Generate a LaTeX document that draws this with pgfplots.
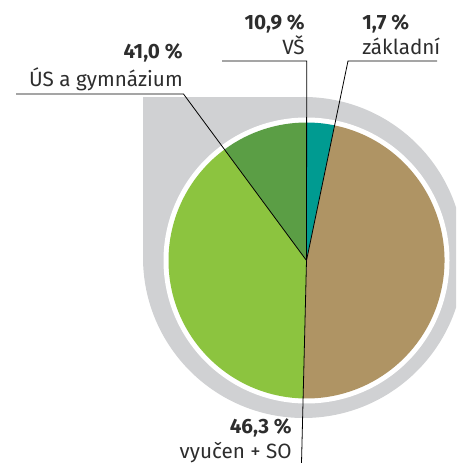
\documentclass[border=0pt]{standalone}
\usepackage{pgfplots}
\usepackage{pgfplotstable}
\pgfplotsset{compat=1.18}
\usepackage{fontspec}
\setmainfont{Fira Sans}
\definecolor{cteal}{RGB}{0,155,145}
\definecolor{cbrown}{RGB}{175,148,100}
\definecolor{clgreen}{RGB}{140,196,63}
\definecolor{cdgreen}{RGB}{91,158,69}
\definecolor{cgray}{RGB}{208,209,211}
\definecolor{ctext}{RGB}{45,45,45}
\pgfplotstableread{
share col
3.3 cteal
47.1 cbrown
39.5 clgreen
10.1 cdgreen
}\piedata
\begin{document}
\begin{tikzpicture}
\begin{axis}[x=0.75pt,y=0.75pt,xmin=0,xmax=456,ymin=0,ymax=463,hide axis,anchor=origin,at={(0,0)},clip=true]
\fill[cgray] (axis cs:142.5,205.5) rectangle (axis cs:303.5,366);
\fill[cgray] (axis cs:303.5,205.5) circle[radius=120.375pt];
\fill[white] (axis cs:306.5,202.5) circle[radius=107.25pt];
\pgfmathsetmacro\cur{90}
\pgfplotsforeachungrouped \i in {0,...,3}{%
  \pgfplotstablegetelem{\i}{share}\of\piedata \let\sv=\pgfplotsretval
  \pgfplotstablegetelem{\i}{col}\of\piedata \let\scol=\pgfplotsretval
  \pgfmathsetmacro\nxt{\cur-3.6*\sv}%
  \edef\cmd{\noexpand\fill[\scol] (axis cs:306.5,202.5) -- ++(\cur:103.5pt) arc[start angle=\cur,end angle=\nxt,radius=103.5pt] -- cycle;}%
  \cmd
  \global\let\cur\nxt
}
\draw[black,line width=0.6pt] (axis cs:222,402) -- (axis cs:306.7,402) -- (axis cs:306.5,202.5);
\draw[black,line width=0.6pt] (axis cs:437,402) -- (axis cs:348,402) -- (axis cs:306.5,202.5);
\draw[black,line width=0.6pt] (axis cs:16,369) -- (axis cs:183.5,369) -- (axis cs:306.5,202.5);
\draw[black,line width=0.6pt] (axis cs:306.5,202.5) -- (axis cs:301.5,0);
\begin{scope}[every node/.style={inner sep=0pt,text=ctext,font=\fontsize{15.5}{18}\selectfont}]
\node[anchor=base east] at (axis cs:305,433) {\bfseries 10,9 \%};
\node[anchor=base east] at (axis cs:305,408) {VŠ};
\node[anchor=base west] at (axis cs:362,433) {\bfseries 1,7 \%};
\node[anchor=base west] at (axis cs:362,408) {základní};
\node[anchor=base east] at (axis cs:183,404) {\bfseries 41,0 \%};
\node[anchor=base east] at (axis cs:183,376) {ÚS a gymnázium};
\node[anchor=base east] at (axis cs:292,29) {\bfseries 46,3 \%};
\node[anchor=base east] at (axis cs:292,4) {vyučen + SO};
\end{scope}
\end{axis}
\pgfresetboundingbox
\useasboundingbox (0,0) rectangle (342pt,347.25pt);
\end{tikzpicture}
\end{document}
